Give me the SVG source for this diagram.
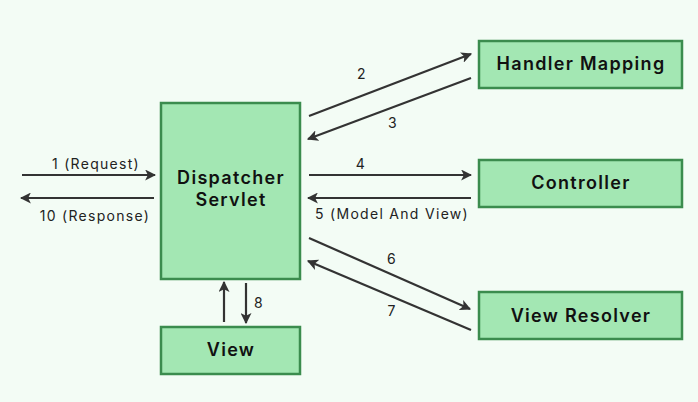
<svg xmlns="http://www.w3.org/2000/svg" width="698" height="402" viewBox="0 0 698 402">
<defs>
<marker id="ah" viewBox="0 0 10 10" refX="9" refY="5" markerWidth="5" markerHeight="5" orient="auto-start-reverse" markerUnits="strokeWidth">
<path d="M0,0 L10,5 L0,10 L2.5,5 z" fill="#333"/>
</marker>
<style>
.node{fill:#a3e7b3;stroke:#3b8c4e;stroke-width:2.5}
.nt{font-family:Inter,"Open Sans","Liberation Sans",sans-serif;font-weight:600;font-size:18px;letter-spacing:1.3px;fill:#111;text-anchor:middle;dominant-baseline:central}
.lbl{font-family:Inter,"Open Sans","Liberation Sans",sans-serif;font-size:14px;letter-spacing:1.3px;fill:#222;text-anchor:middle;dominant-baseline:central}
.edge{stroke:#333;stroke-width:2.2;fill:none;marker-end:url(#ah)}
</style>
</defs>
<rect width="698" height="402" fill="#f3fcf5"/>
<g id="dispatcher"><rect class="node" x="161" y="103" width="139" height="176"/><text class="nt" x="231" y="177">Dispatcher</text><text class="nt" x="231" y="199">Servlet</text></g>
<g id="handler"><rect class="node" x="479" y="41" width="203" height="47"/><text class="nt" x="581" y="63">Handler Mapping</text></g>
<g id="controller"><rect class="node" x="479" y="160" width="203" height="47"/><text class="nt" x="581" y="182">Controller</text></g>
<g id="resolver"><rect class="node" x="479" y="292" width="203" height="47"/><text class="nt" x="581" y="315">View Resolver</text></g>
<g id="view"><rect class="node" x="161" y="327" width="139" height="47"/><text class="nt" x="231" y="349">View</text></g>
<g id="connectors">
<line class="edge" x1="22" y1="175" x2="155" y2="175"/>
<line class="edge" x1="154" y1="198" x2="21" y2="198"/>
<line class="edge" x1="309" y1="116" x2="471" y2="54"/>
<line class="edge" x1="471" y1="78" x2="308" y2="139"/>
<line class="edge" x1="309" y1="175" x2="471" y2="175"/>
<line class="edge" x1="471" y1="198" x2="308" y2="198"/>
<line class="edge" x1="309" y1="238" x2="470" y2="309"/>
<line class="edge" x1="471" y1="330" x2="308" y2="261"/>
<line class="edge" x1="224" y1="322" x2="224" y2="282"/>
<line class="edge" x1="246" y1="283" x2="246" y2="323"/>
</g>
<g id="labels">
<text class="lbl" x="96" y="163">1 (Request)</text>
<text class="lbl" x="95" y="215">10 (Response)</text>
<text class="lbl" x="362" y="73">2</text>
<text class="lbl" x="393" y="122">3</text>
<text class="lbl" x="361" y="163">4</text>
<text class="lbl" x="392" y="213">5 (Model And View)</text>
<text class="lbl" x="392" y="258">6</text>
<text class="lbl" x="392" y="310">7</text>
<text class="lbl" x="259" y="302">8</text>
</g>
</svg>
